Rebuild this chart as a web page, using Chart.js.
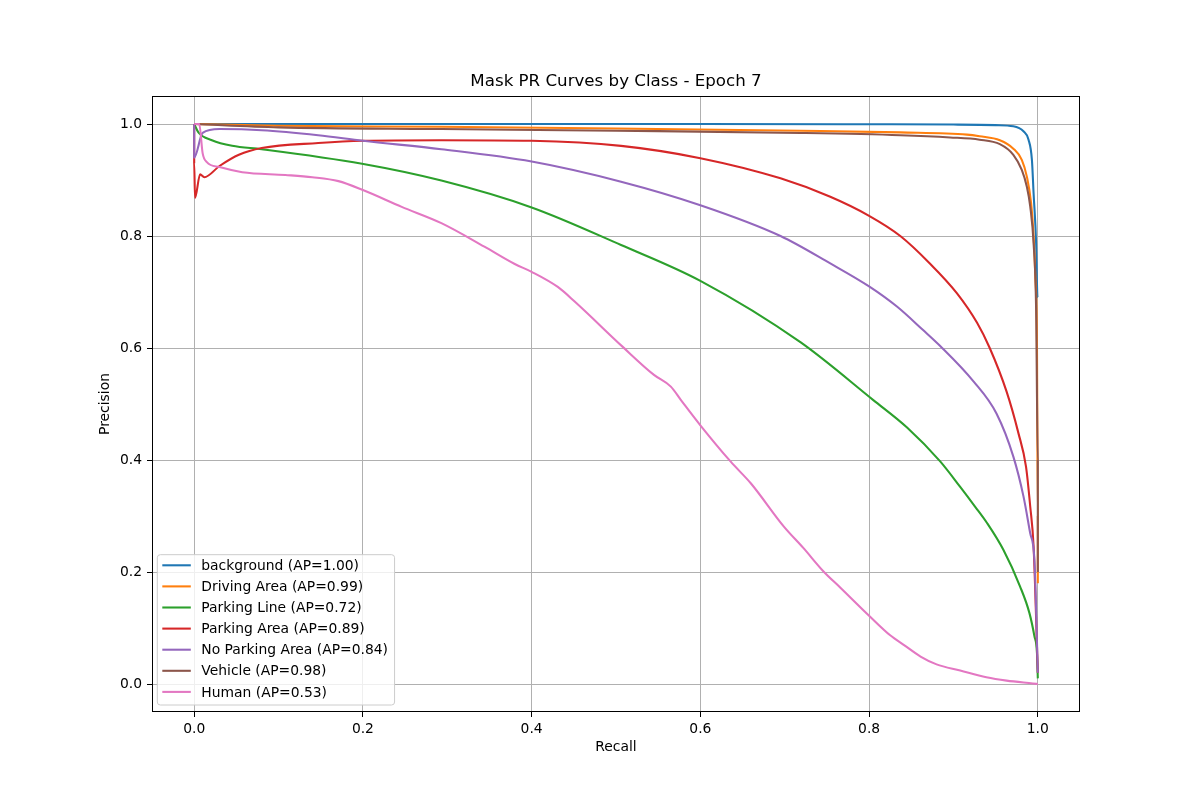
<!DOCTYPE html>
<html lang="en">
<head>
<meta charset="utf-8">
<title>Mask PR Curves by Class - Epoch 7</title>
<script src="https://cdn.jsdelivr.net/npm/chart.js"></script>
<style>
  body { margin: 0; background: #fff; }
</style>
</head>
<body>
<canvas id="prChart" width="1200" height="800"></canvas>
<script>
// class names, AP values and colours (matplotlib tab10)
const classNames = ['background', 'Driving Area', 'Parking Line', 'Parking Area', 'No Parking Area', 'Vehicle', 'Human'];
const apValues = [1.00, 0.99, 0.72, 0.89, 0.84, 0.98, 0.53];
const classColors = ['#1f77b4', '#ff7f0e', '#2ca02c', '#d62728', '#9467bd', '#8c564b', '#e377c2'];

const xTicks = [0.0, 0.2, 0.4, 0.6, 0.8, 1.0];
const yTicks = [0.0, 0.2, 0.4, 0.6, 0.8, 1.0];

const backgroundRecall = [0, 0.2, 0.4, 0.6, 0.8, 0.9, 0.95, 0.971, 0.983, 0.989, 0.993, 0.995, 0.998, 0.9995, 1.0];
const backgroundPrecision = [1.0, 1.0, 1.0, 1.0, 0.9995, 0.999, 0.998, 0.996, 0.987, 0.972, 0.936, 0.876, 0.787, 0.692, 0.69];

const drivingRecall = [0, 0.1, 0.293, 0.5, 0.719, 0.837, 0.916, 0.931, 0.955, 0.971, 0.981, 0.987, 0.992, 0.995, 0.997, 0.999, 1.0, 1.0];
const drivingPrecision = [1.0, 0.997, 0.995, 0.992, 0.988, 0.985, 0.981, 0.978, 0.971, 0.956, 0.936, 0.906, 0.859, 0.799, 0.73, 0.6, 0.3, 0.18];

const lineRecall = [0, 0.005, 0.021, 0.045, 0.08, 0.199, 0.293, 0.4, 0.506, 0.6, 0.719, 0.805, 0.845, 0.884, 0.908, 0.926, 0.94, 0.959, 0.979, 0.99, 0.996, 0.999, 1.0];
const linePrecision = [1.0, 0.985, 0.971, 0.961, 0.955, 0.929, 0.899, 0.851, 0.784, 0.720, 0.610, 0.507, 0.458, 0.398, 0.352, 0.316, 0.287, 0.240, 0.174, 0.127, 0.085, 0.055, 0.01];

const parkingRecall = [0, 0, 0.001, 0.007, 0.012, 0.03, 0.053, 0.08, 0.147, 0.2, 0.293, 0.4, 0.506, 0.6, 0.695, 0.754, 0.8, 0.837, 0.872, 0.904, 0.928, 0.943, 0.963, 0.977, 0.986, 0.991, 0.995, 1.0];
const parkingPrecision = [1.0, 0.93, 0.868, 0.91, 0.905, 0.925, 0.945, 0.957, 0.966, 0.970, 0.971, 0.970, 0.961, 0.939, 0.903, 0.870, 0.836, 0.8, 0.751, 0.698, 0.645, 0.6, 0.522, 0.448, 0.388, 0.317, 0.245, 0.02];

const noParkingRecall = [0, 0, 0.01, 0.03, 0.08, 0.147, 0.2, 0.293, 0.4, 0.506, 0.6, 0.695, 0.754, 0.8, 0.833, 0.864, 0.884, 0.924, 0.951, 0.971, 0.983, 0.991, 0.996, 1.0];
const noParkingPrecision = [1.0, 0.94, 0.984, 0.991, 0.989, 0.98, 0.970, 0.955, 0.933, 0.897, 0.855, 0.8, 0.751, 0.710, 0.674, 0.632, 0.604, 0.540, 0.483, 0.406, 0.335, 0.269, 0.221, 0.02];

const vehicleRecall = [0, 0.1, 0.293, 0.5, 0.719, 0.837, 0.896, 0.931, 0.955, 0.971, 0.981, 0.987, 0.991, 0.995, 0.998, 1.0, 1.0];
const vehiclePrecision = [1.0, 0.994, 0.991, 0.988, 0.984, 0.980, 0.976, 0.972, 0.964, 0.945, 0.918, 0.888, 0.853, 0.787, 0.668, 0.4, 0.2];

const humanRecall = [0, 0.006, 0.01, 0.015, 0.03, 0.057, 0.108, 0.14, 0.171, 0.2, 0.246, 0.293, 0.344, 0.38, 0.4, 0.431, 0.451, 0.508, 0.545, 0.565, 0.577, 0.6, 0.636, 0.66, 0.699, 0.722, 0.746, 0.766, 0.8, 0.825, 0.841, 0.861, 0.88, 0.908, 0.939, 0.963, 0.994, 1.0];
const humanPrecision = [1.0, 1.0, 0.948, 0.932, 0.923, 0.914, 0.909, 0.905, 0.898, 0.882, 0.852, 0.823, 0.781, 0.75, 0.736, 0.709, 0.683, 0.602, 0.552, 0.531, 0.507, 0.462, 0.397, 0.358, 0.281, 0.243, 0.201, 0.172, 0.122, 0.087, 0.07, 0.049, 0.035, 0.024, 0.012, 0.006, 0.001, 0.0];

const recallSets = [backgroundRecall, drivingRecall, lineRecall, parkingRecall, noParkingRecall, vehicleRecall, humanRecall];
const precisionSets = [backgroundPrecision, drivingPrecision, linePrecision, parkingPrecision, noParkingPrecision, vehiclePrecision, humanPrecision];

Chart.defaults.font.family = "'DejaVu Sans', sans-serif";
Chart.defaults.font.size = 13.89;
Chart.defaults.color = '#000';

const datasets = classNames.map((name, i) => ({
    label: name + ' (AP=' + apValues[i].toFixed(2) + ')',
    data: recallSets[i].map((r, j) => ({ x: r, y: precisionSets[i][j] })),
    borderColor: classColors[i],
    backgroundColor: classColors[i],
    borderWidth: 2.08,
    borderJoinStyle: 'round',
    pointRadius: 0,
    showLine: true,
    fill: false,
    cubicInterpolationMode: 'monotone',
    order: classNames.length - i   // later classes on top, like matplotlib
}));

// black box round the axes (all four spines)
const framePlugin = {
    id: 'frame',
    afterDatasetsDraw(chart) {
        const a = chart.chartArea;
        const ctx = chart.ctx;
        ctx.save();
        ctx.strokeStyle = '#000';
        ctx.lineWidth = 1;
        ctx.strokeRect(Math.round(a.left) + 0.5, Math.round(a.top) + 0.5,
                       Math.round(a.right - a.left) - 1, Math.round(a.bottom - a.top) - 1);
        ctx.restore();
    }
};

// legend inside the axes, lower left
const boxLegend = {
    id: 'boxLegend',
    afterDraw(chart) {
        const a = chart.chartArea;
        const ctx = chart.ctx;
        const sets = chart.data.datasets;
        ctx.save();
        ctx.font = "13.89px 'DejaVu Sans', sans-serif";
        let maxW = 0;
        sets.forEach(ds => { maxW = Math.max(maxW, ctx.measureText(ds.label).width); });
        const rowH = 21.1;
        const w = 44 + maxW + 6.6;
        const h = 150.3;
        const x = a.left + 5.3;
        const y = a.bottom - 7 - h;
        ctx.beginPath();
        ctx.roundRect(x, y, w, h, 3);
        ctx.fillStyle = 'rgba(255,255,255,0.8)';
        ctx.fill();
        ctx.strokeStyle = '#cccccc';
        ctx.lineWidth = 1;
        ctx.stroke();
        ctx.textBaseline = 'middle';
        sets.forEach((ds, i) => {
            const cy = y + 10.6 + i * rowH;
            ctx.beginPath();
            ctx.moveTo(x + 5, cy);
            ctx.lineTo(x + 33.5, cy);
            ctx.strokeStyle = ds.borderColor;
            ctx.lineWidth = 2.08;
            ctx.stroke();
            ctx.fillStyle = '#000';
            ctx.fillText(ds.label, x + 44, cy + 1);
        });
        ctx.restore();
    }
};

new Chart(document.getElementById('prChart'), {
    type: 'scatter',
    data: { datasets: datasets },
    plugins: [framePlugin, boxLegend],
    options: {
        responsive: false,
        animation: false,
        layout: { padding: { left: 0, right: 120, top: 0, bottom: 0 } },
        plugins: {
            legend: { display: false },
            tooltip: { enabled: false },
            title: {
                display: true,
                fullSize: false,
                text: 'Mask PR Curves by Class - Epoch 7',
                font: { size: 16.67, weight: 'normal' },
                color: '#000',
                padding: { top: 72, bottom: 4 }
            }
        },
        scales: {
            x: {
                type: 'linear',
                min: -0.05,
                max: 1.05,
                afterBuildTicks(scale) { scale.ticks = xTicks.map(v => ({ value: v })); },
                afterFit(scale) { scale.height = 88; },
                ticks: { padding: 4, callback: v => v.toFixed(1), color: '#000' },
                grid: { color: '#b0b0b0', lineWidth: 1, tickLength: 5, tickColor: '#000' },
                border: { display: false },
                title: { display: true, text: 'Recall', color: '#000', padding: { top: 0, bottom: 44.7 } }
            },
            y: {
                type: 'linear',
                min: -0.05,
                max: 1.05,
                afterBuildTicks(scale) { scale.ticks = yTicks.map(v => ({ value: v })); },
                afterFit(scale) { scale.width = 152; },
                ticks: { padding: 5, callback: v => v.toFixed(1), color: '#000' },
                grid: { color: '#b0b0b0', lineWidth: 1, tickLength: 5, tickColor: '#000' },
                border: { display: false },
                title: { display: true, text: 'Precision', color: '#000', padding: { top: 96.7, bottom: 0 } }
            }
        }
    }
});
</script>
</body>
</html>
